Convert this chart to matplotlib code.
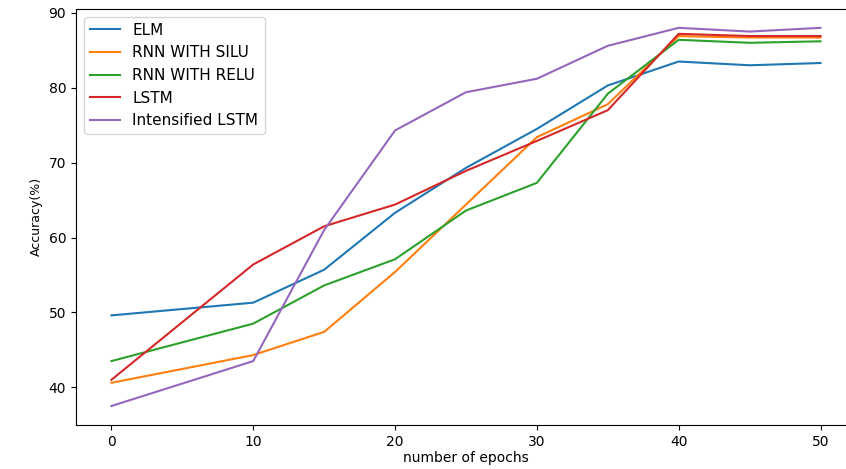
import matplotlib.pyplot as plt

epochs = [0, 10, 15, 20, 25, 30, 35, 40, 45, 50]

elm = [49.6, 51.3, 55.7, 63.3, 69.3, 74.5, 80.3, 83.5, 83.0, 83.3]
rnn_silu = [40.6, 44.3, 47.4, 55.4, 64.4, 73.4, 77.8, 86.9, 86.7, 86.7]
rnn_relu = [43.5, 48.5, 53.6, 57.1, 63.6, 67.3, 79.2, 86.4, 86.0, 86.2]
lstm = [41.0, 56.4, 61.5, 64.4, 68.9, 72.9, 77.0, 87.2, 86.9, 86.9]
intensified_lstm = [37.5, 43.5, 61.0, 74.3, 79.4, 81.2, 85.6, 88.0, 87.5, 88.0]

fig = plt.figure(figsize=(8.46, 4.69), dpi=100)
ax = fig.add_axes([0.0898, 0.094, 0.922, 0.887])

ax.plot(epochs, elm, label="ELM")
ax.plot(epochs, rnn_silu, label="RNN WITH SILU")
ax.plot(epochs, rnn_relu, label="RNN WITH RELU")
ax.plot(epochs, lstm, label="LSTM")
ax.plot(epochs, intensified_lstm, label="Intensified LSTM")

# the right edge of the original axes is cut off
ax.spines["right"].set_visible(False)

ax.set_xticks([0, 10, 20, 30, 40, 50])
ax.set_yticks([40, 50, 60, 70, 80, 90])
ax.tick_params(labelsize=10)
ax.set_xlabel("number of epochs", fontsize=10, labelpad=2)
ax.set_ylabel("Accuracy(%)", fontsize=9, labelpad=4)
ax.legend(loc="upper left", fontsize=11)

fig.savefig("out.png", dpi=100)
